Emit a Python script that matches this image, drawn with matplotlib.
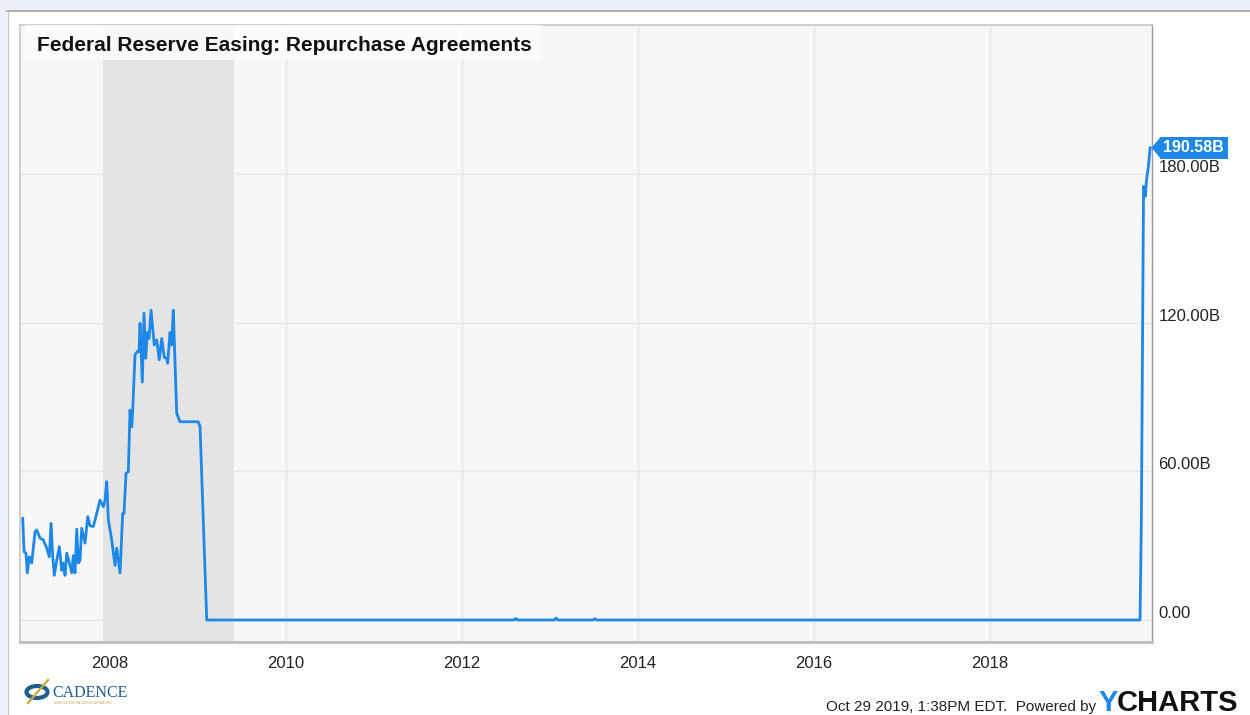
import matplotlib
matplotlib.use("Agg")
import matplotlib.pyplot as plt
import matplotlib.transforms as mtransforms
from matplotlib.patches import Rectangle, Polygon, Circle

# ---------------- data (decimal years, billions USD) ----------------
years = [
    2007.008, 2007.023, 2007.045, 2007.060, 2007.083, 2007.110, 2007.148, 2007.167,
    2007.205, 2007.242, 2007.281, 2007.310, 2007.330, 2007.349, 2007.367, 2007.394,
    2007.424, 2007.451, 2007.469, 2007.489, 2007.508, 2007.538, 2007.565, 2007.583,
    2007.602, 2007.622, 2007.640, 2007.659, 2007.678, 2007.716, 2007.747, 2007.773,
    2007.810, 2007.849, 2007.886, 2007.924, 2007.943, 2007.963, 2007.981, 2008.019,
    2008.057, 2008.076, 2008.114, 2008.144, 2008.159, 2008.182, 2008.208, 2008.227,
    2008.247, 2008.258, 2008.284, 2008.310, 2008.330, 2008.341, 2008.367, 2008.386,
    2008.406, 2008.424, 2008.443, 2008.466, 2008.503, 2008.531, 2008.559, 2008.588,
    2008.616, 2008.644, 2008.655, 2008.682, 2008.701, 2008.719, 2008.739, 2008.758,
    2008.795, 2009.003, 2009.023, 2009.099,
    2012.590, 2012.610, 2012.630, 2013.050, 2013.070, 2013.090, 2013.490, 2013.510,
    2013.530, 2019.705, 2019.720, 2019.745, 2019.765, 2019.780, 2019.800, 2019.820,
]
repo_values = [
    41.0, 27.6, 27.0, 19.0, 25.5, 23.0, 35.6, 36.3,
    33.0, 32.3, 29.0, 25.5, 39.0, 25.5, 18.0, 24.0,
    29.6, 20.0, 23.0, 18.0, 27.0, 23.0, 19.0, 26.0,
    19.0, 36.7, 23.0, 24.0, 37.0, 31.0, 41.7, 38.0,
    37.7, 43.0, 48.4, 45.7, 48.4, 55.8, 40.4, 32.3,
    22.0, 29.0, 19.0, 43.0, 43.0, 59.3, 59.8, 84.7,
    78.0, 84.7, 107.0, 108.3, 108.3, 119.7, 96.0, 123.8,
    105.6, 116.0, 113.6, 125.0, 111.0, 113.0, 105.0, 113.6,
    106.0, 105.6, 103.6, 116.0, 111.0, 125.0, 103.6, 83.4,
    80.0, 80.0, 78.0, 0.0,
    0.0, 0.6, 0.0, 0.0, 0.8, 0.0, 0.0, 0.5,
    0.0, 0.0, 40.0, 175.0, 171.0, 178.0, 183.0, 190.58,
]
recession = (2007.92, 2009.41)
x_ticks = [2008, 2010, 2012, 2014, 2016, 2018]
x_tick_labels = ["2008", "2010", "2012", "2014", "2016", "2018"]
y_ticks = [0, 60, 120, 180]
y_tick_labels = ["0.00", "60.00B", "120.00B", "180.00B"]
last_label = "190.58B"
title = "Federal Reserve Easing: Repurchase Agreements"

BLUE = "#1e88e8"
W, H = 1250, 715

plt.rcParams["font.family"] = ["Liberation Sans", "DejaVu Sans"]

fig = plt.figure(figsize=(W / 100, H / 100), dpi=100, facecolor="white")


def fx(px):
    return px / W


def fy(py):
    return 1 - py / H


# ---- page decoration (slide background) ----
fig.patches.append(Rectangle((0, fy(10)), 1, 10 / H, transform=fig.transFigure,
                             fc="#eceff5", ec="none", zorder=0))
fig.patches.append(Rectangle((0, 0), fx(7), 1, transform=fig.transFigure,
                             fc="#eceff5", ec="none", zorder=0))
fig.lines.append(plt.Line2D([fx(7), 1], [fy(10.5), fy(10.5)], transform=fig.transFigure,
                            color="#a0a0a0", lw=1.2))
fig.lines.append(plt.Line2D([fx(7.5), fx(7.5)], [0, fy(10.5)], transform=fig.transFigure,
                            color="#c8c8c8", lw=1.0))

# ---- main axes ----
left, right, top, bottom = 20, 1152, 25, 642
ax = fig.add_axes([fx(left), fy(bottom), (right - left) / W, (bottom - top) / H])
ax.set_facecolor("#f7f7f7")
ax.set_xlim(2006.977, 2019.841)
ax.set_ylim(-8.88, 240.1)

ax.axvspan(recession[0], recession[1], color="#e4e4e4", lw=0, zorder=1)
ax.plot(years, repo_values, color=BLUE, lw=2.0, zorder=3)

ax.set_axisbelow(True)
ax.grid(True, color="#e6e6e6", lw=1.0)
ax.set_xticks(x_ticks)
ax.set_xticklabels(x_tick_labels)
ax.set_yticks(y_ticks)
ax.set_yticklabels(y_tick_labels)
ax.yaxis.tick_right()
ax.tick_params(axis="both", length=0, labelsize=12, labelcolor="#222222")
ax.tick_params(axis="x", pad=10)
ax.tick_params(axis="y", pad=4.5)
for lab in ax.get_yticklabels():
    lab.set_transform(lab.get_transform() +
                      mtransforms.ScaledTranslation(0, 8 / 100, fig.dpi_scale_trans))

for s in ["top", "left"]:
    ax.spines[s].set_color("#cfcfcf")
    ax.spines[s].set_linewidth(1.5)
ax.spines["right"].set_color("#9a9a9a")
ax.spines["right"].set_linewidth(1.0)
ax.spines["bottom"].set_color("#bdbdbd")
ax.spines["bottom"].set_linewidth(2.0)

# ---- last value tag ----
anchor = mtransforms.Affine2D().scale(100 / 72) + \
    mtransforms.ScaledTranslation(years[-1], repo_values[-1], ax.transData)
tri = Polygon([(1, 0), (7.5, 7.8), (7.5, -7.8)], closed=True, fc=BLUE, ec="none",
              transform=anchor, clip_on=False, zorder=5)
ax.add_patch(tri)
ax.annotate(last_label, xy=(years[-1], repo_values[-1]), xytext=(9.5, 0),
            textcoords="offset points", ha="left", va="center", color="white",
            fontsize=11.5, fontweight="bold", annotation_clip=False, zorder=6,
            bbox=dict(boxstyle="square,pad=0.22", fc=BLUE, ec="none"))

# ---- title box ----
fig.patches.append(Rectangle((fx(25), fy(60)), (541 - 25) / W, 35 / H,
                             transform=fig.transFigure, fc="white", ec="none",
                             alpha=0.75, zorder=3))
fig.text(fx(37), fy(51), title, fontsize=15, fontweight="bold", color="#111111",
         ha="left", va="baseline", zorder=4)

# ---- footer ----
fig.text(fx(1096), fy(711), "Oct 29 2019, 1:38PM EDT.  Powered by", fontsize=11,
         color="#222222", ha="right", va="baseline")
fig.text(fx(1099), fy(711), "Y", fontsize=21, fontweight="bold", color=BLUE,
         ha="left", va="baseline")
fig.text(fx(1117), fy(711), "CHARTS", fontsize=21, fontweight="bold", color="#111111",
         ha="left", va="baseline")

# Cadence logo
fig.patches.append(Circle((fx(37), fy(692)), 10.5 / W, transform=fig.transFigure,
                          fc="none", ec="#1f5f8f", lw=3.0))
fig.lines.append(plt.Line2D([fx(28), fx(48)], [fy(703), fy(680)], transform=fig.transFigure,
                            color="#c9a53a", lw=1.6))
fig.text(fx(52), fy(697), "CADENCE", fontsize=11.5, family=["Liberation Serif", "DejaVu Serif"],
         color="#1f5f8f", ha="left", va="baseline")
fig.text(fx(54), fy(704), "WEALTH MANAGEMENT", fontsize=3.6,
         family=["Liberation Serif", "DejaVu Serif"], color="#b89a3a", ha="left", va="baseline")

fig.savefig("out.png", dpi=100, facecolor="white")
